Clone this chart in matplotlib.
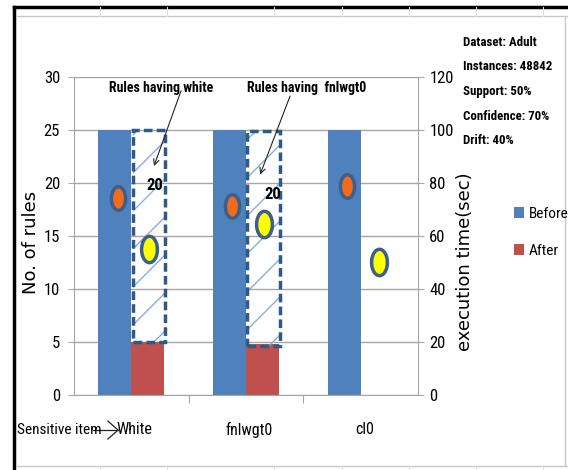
import matplotlib.pyplot as plt
import numpy as np
from matplotlib import font_manager
from matplotlib.lines import Line2D
from matplotlib.patches import Rectangle
from matplotlib.path import Path

installed = {f.name for f in font_manager.fontManager.ttflist}
narrow = 'Liberation Sans'
for cand in ['Liberation Sans Narrow', 'Roboto Condensed', 'Open Sans Condensed', 'Noto Sans Condensed',
             'DejaVu Sans Condensed']:
    if cand in installed:
        narrow = cand
        break
plt.rcParams['font.family'] = [narrow, 'DejaVu Sans']

items = ['White', 'fnlwgt0', 'cl0']
rules_before = [25, 25, 25]
rules_after = [5, 4.8, 0]
time_before = [74.5, 71.5, 79]
time_after = [55, 64.5, 50]
hidden_lo = [5, 4.6]
hidden_hi = [25, 24.9]
hidden_count = [20, 20]
notes = ['Dataset: Adult', 'Instances: 48842', 'Support: 50%', 'Confidence: 70%', 'Drift: 40%']

blue = '#4F81BD'
red = '#C0504D'
edge = '#2E5A88'

fig = plt.figure(figsize=(5.68, 4.7), dpi=100)
ax = fig.add_axes([0.1303, 0.1596, 0.606, 0.6766])
x = np.arange(len(items))
w = 0.288
ax.bar(x - w / 2, rules_before, w, color=blue, label='Before', zorder=2)
ax.bar(x + w / 2, rules_after, w, color=red, label='After', zorder=2)
ax.set_xlim(-0.5, 2.5)
ax.set_ylim(0, 30)
ax.set_yticks(range(0, 31, 5))
ax.grid(axis='y', color='#A6A6A6', lw=1, zorder=0)
ax.set_xticks([0.5, 1.5])
ax.set_xticklabels([])
ax.tick_params(axis='x', length=6, color='#A6A6A6')
ax.tick_params(axis='y', length=4, color='#A6A6A6', labelsize=12, pad=6)
for s in ['top', 'right']:
    ax.spines[s].set_visible(False)
for s in ['left', 'bottom']:
    ax.spines[s].set_color('#A6A6A6')
for i, name in enumerate(items):
    ax.text(i + 0.03, -3.3, name, ha='center', va='center', fontsize=11.5)
ax.set_ylabel('No. of rules', family='DejaVu Sans', fontsize=13)
ax.yaxis.set_label_coords(-0.10, 0.48)

# dashed boxes for hidden rules, with sparse diagonal lines
pxx = 568 * 0.606 / 3
pxy = 470 * 0.6766 / 30
for i in range(2):
    x0, x1 = i + 0.012, i + 0.292
    r = Rectangle((x0, hidden_lo[i]), x1 - x0, hidden_hi[i] - hidden_lo[i], fill=False,
                  ec=edge, lw=2.5, ls=(0, (2.5, 1.2)), zorder=4)
    ax.add_patch(r)
    clip = Rectangle((x0, hidden_lo[i]), x1 - x0, hidden_hi[i] - hidden_lo[i],
                     transform=ax.transData, visible=False)
    ax.add_patch(clip)
    span = (x1 - x0) * pxx / pxy
    for y0 in np.arange(hidden_lo[i] - 2, hidden_hi[i] + 2, 38 / pxy):
        ln, = ax.plot([x0, x1], [y0, y0 + span], color='#7FA6D9', lw=0.9, zorder=3)
        ln.set_clip_path(clip)
    ax.text(i + 0.2 + 0.03 * i, 19.8 - 0.9 * i, str(hidden_count[i]), ha='center', va='center',
            fontsize=12, weight='bold', zorder=5)

ax.text(0.258, 29.0, 'Rules having white', ha='center', va='center', fontsize=10, weight='bold', zorder=6)
ax.text(1.53, 29.0, 'Rules having  fnlwgt0', ha='center', va='center', fontsize=10, weight='bold', zorder=6)
arrow = dict(arrowstyle='->', color='#222222', lw=0.8, shrinkA=0, shrinkB=0)
ax.annotate('', xy=(0.197, 21.6), xytext=(0.433, 28.7), arrowprops=arrow, zorder=6)
ax.annotate('', xy=(1.122, 20.8), xytext=(1.383, 28.2), arrowprops=arrow, zorder=6)

ax2 = ax.twinx()
ax2.set_ylim(0, 120)
ax2.set_yticks(range(0, 121, 20))
ax2.tick_params(axis='y', length=4, color='#A6A6A6', labelsize=12, pad=4)
for s in ['top', 'left', 'bottom']:
    ax2.spines[s].set_visible(False)
ax2.spines['right'].set_color('#A6A6A6')
t = np.linspace(0, 2 * np.pi, 40)
oval = Path(np.column_stack([0.6 * np.cos(t), np.sin(t)]))
ax2.plot(x - 0.12, time_before, ls='none', marker=oval, ms=17, mfc='#F26B1D', mec='#3D5F8C', mew=2.5, zorder=5)
ax2.plot(x + 0.155, time_after, ls='none', marker=oval, ms=19, mfc='#FFFF00', mec='#3D5F8C', mew=2.5, zorder=5)
ax2.set_ylabel('execution time(sec)', family='DejaVu Sans', fontsize=13)
ax2.yaxis.set_label_coords(1.11, 0.42)

fig.text(0.03, 0.085, 'Sensitive item', fontsize=11, va='center')
fig.add_artist(Line2D([0.163, 0.208], [0.085, 0.085], color='#222222', lw=0.9))
fig.add_artist(Line2D([0.19, 0.208, 0.19], [0.104, 0.085, 0.066], color='#222222', lw=0.9))

for k, s in enumerate(notes):
    fig.text(0.815, 0.91 - k * 0.0525, s, fontsize=9.3, va='center', weight='bold')

fig.legend(loc='center left', bbox_to_anchor=(0.88, 0.505), frameon=False, fontsize=11,
           handlelength=0.7, handleheight=0.7, handletextpad=0.3, labelspacing=1.5)

# sheet frame and cell lines around the chart
fig.add_artist(Line2D([0.025, 0.025], [0, 0.985], color='black', lw=2.5))
fig.add_artist(Line2D([0.025, 1], [0.985, 0.985], color='black', lw=2.5))
fig.add_artist(Line2D([0.03, 1], [0.965, 0.965], color='#C8C8C8', lw=1))
fig.add_artist(Line2D([0.03, 1], [0.008, 0.008], color='#C8C8C8', lw=1))
fig.add_artist(Line2D([0.995, 0.995], [0.008, 0.965], color='#C8C8C8', lw=1))
for cx in [100, 167, 274, 342, 409, 476, 543]:
    fig.add_artist(Line2D([cx / 568, cx / 568], [0.965, 0.985], color='#DDDDDD', lw=0.8))
    fig.add_artist(Line2D([cx / 568, cx / 568], [0.0, 0.008], color='#DDDDDD', lw=0.8))

plt.savefig('out.png', dpi=100)
